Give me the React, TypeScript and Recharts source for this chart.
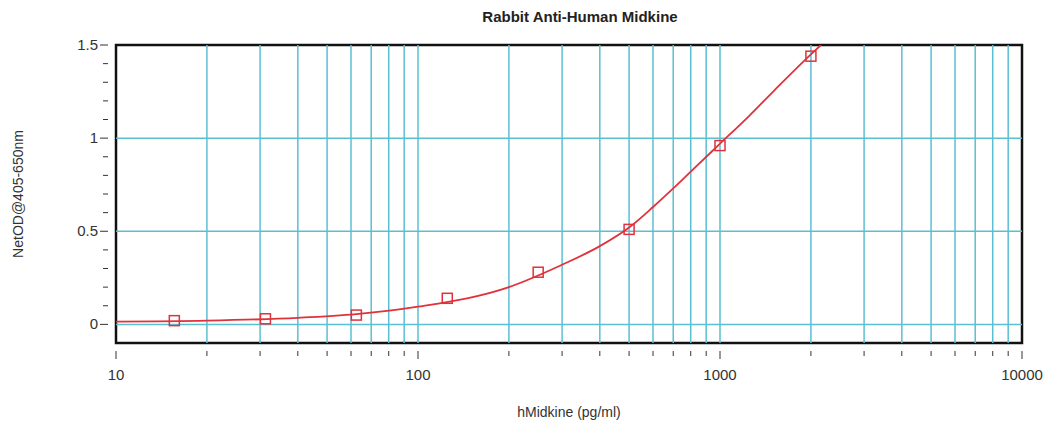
import {
  ComposedChart,
  XAxis,
  YAxis,
  Line,
  Scatter,
  ReferenceLine,
  ReferenceArea,
} from "recharts";

// standards (pg/ml) and measured NetOD
const standardConc = [15.6, 31.25, 62.5, 125, 250, 500, 1000, 2000];
const standardOD = [0.02, 0.03, 0.05, 0.14, 0.28, 0.51, 0.96, 1.44];

// fitted curve
const curveConc = [10, 20, 40, 62.5, 100, 200, 300, 400, 500, 600, 700, 800, 1000, 1250, 1500, 2000, 2160];
const curveOD = [0.015, 0.02, 0.035, 0.055, 0.095, 0.2, 0.32, 0.42, 0.52, 0.63, 0.73, 0.82, 0.97, 1.12, 1.25, 1.45, 1.5];

const xMajorTicks = [10, 100, 1000, 10000];
const xGridLines = [
  20, 30, 40, 50, 60, 70, 80, 90, 100,
  200, 300, 400, 500, 600, 700, 800, 900, 1000,
  2000, 3000, 4000, 5000, 6000, 7000, 8000, 9000,
];
const xAllTicks = [10, ...xGridLines, 10000];
const yMajorTicks = [0, 0.5, 1, 1.5];
const yAllTicks = [-0.1, 0, 0.1, 0.2, 0.3, 0.4, 0.5, 0.6, 0.7, 0.8, 0.9, 1, 1.1, 1.2, 1.3, 1.4, 1.5];
const yGridLines = [0, 0.5, 1];

const FONT = "'Liberation Sans', Arial, sans-serif";
const GRID = "#5bbfd2";
const RED = "#e0323a";

const points = standardConc.map((x, i) => ({ x, y: standardOD[i] }));
const curve = curveConc.map((x, i) => ({ x, y: curveOD[i] }));

const XTick = (props: any) => {
  const { x, y, payload } = props;
  const major = xMajorTicks.includes(payload.value);
  return (
    <g>
      <line x1={x} x2={x} y1={y} y2={y + (major ? 8 : 5)} stroke="#333" strokeWidth={1} />
      {major && (
        <text x={x} y={y + 29} textAnchor="middle" fontSize={15} fill="#333" fontFamily={FONT}>
          {payload.value}
        </text>
      )}
    </g>
  );
};

const YTick = (props: any) => {
  const { x, y, payload } = props;
  const major = yMajorTicks.includes(payload.value);
  if (payload.value < 0) return <g />;
  return (
    <g>
      <line x1={x} x2={x - (major ? 8 : 5)} y1={y} y2={y} stroke="#333" strokeWidth={1} />
      {major && (
        <text x={x - 10} y={y + 5} textAnchor="end" fontSize={15} fill="#333" fontFamily={FONT}>
          {payload.value}
        </text>
      )}
    </g>
  );
};

const SquareMarker = (props: any) => {
  const { cx, cy } = props;
  return <rect x={cx - 5} y={cy - 5} width={10} height={10} fill="none" stroke={RED} strokeWidth={1.5} />;
};

export default function App() {
  return (
    <div style={{ position: "absolute", left: 0, top: 0, width: 1053, height: 427, background: "#fff" }}>
      <div
        style={{
          position: "absolute",
          top: 8,
          left: 0,
          width: 1160,
          textAlign: "center",
          fontFamily: FONT,
          fontWeight: "bold",
          fontSize: 15,
          color: "#222",
        }}
      >
        Rabbit Anti-Human Midkine
      </div>
      <ComposedChart width={1053} height={427} margin={{ top: 45, right: 31, left: 0, bottom: 0 }}>
        <XAxis
          dataKey="x"
          type="number"
          scale="log"
          domain={[10, 10000]}
          ticks={xAllTicks}
          interval={0}
          allowDataOverflow
          tick={<XTick />}
          tickLine={false}
          axisLine={false}
          height={84}
          label={{
            value: "hMidkine (pg/ml)",
            position: "insideBottom",
            offset: 10,
            fontSize: 14,
            fill: "#333",
            fontFamily: FONT,
          }}
        />
        <YAxis
          type="number"
          domain={[-0.1, 1.5]}
          ticks={yAllTicks}
          interval={0}
          allowDataOverflow
          tick={<YTick />}
          tickLine={false}
          axisLine={false}
          width={116}
          label={{
            value: "NetOD@405-650nm",
            angle: -90,
            position: "insideLeft",
            offset: 18,
            style: { textAnchor: "middle" },
            fontSize: 14,
            fill: "#333",
            fontFamily: FONT,
          }}
        />
        {xGridLines.map((v) => (
          <ReferenceLine key={"gx" + v} x={v} stroke={GRID} strokeWidth={1.5} ifOverflow="hidden" />
        ))}
        {yGridLines.map((v) => (
          <ReferenceLine key={"gy" + v} y={v} stroke={GRID} strokeWidth={1.5} />
        ))}
        <Line
          data={curve}
          dataKey="y"
          type="monotone"
          stroke={RED}
          strokeWidth={1.8}
          dot={false}
          isAnimationActive={false}
        />
        <Scatter data={points} dataKey="y" shape={<SquareMarker />} isAnimationActive={false} />
        <ReferenceArea
          x1={10}
          x2={10000}
          y1={-0.1}
          y2={1.5}
          fill="none"
          fillOpacity={0}
          stroke="#111"
          strokeWidth={2.5}
        />
      </ComposedChart>
    </div>
  );
}
